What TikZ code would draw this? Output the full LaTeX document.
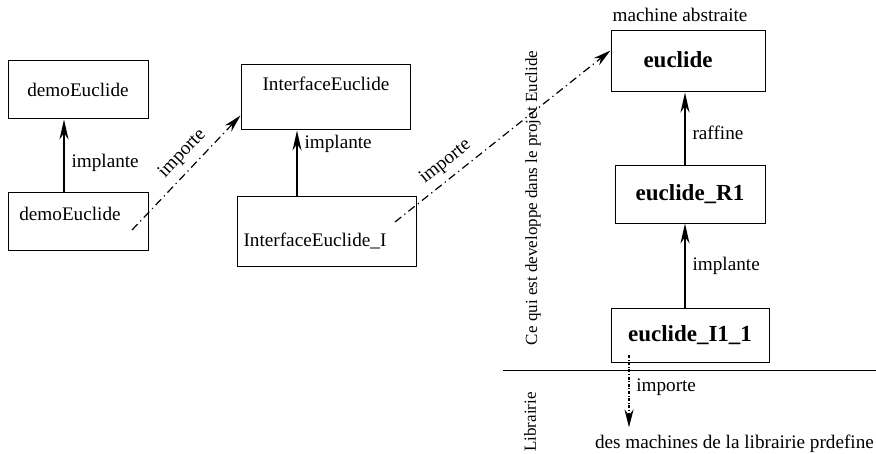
\documentclass[tikz,border=0pt]{standalone}
\usepackage{fontspec}
\setmainfont{Liberation Serif}
\usetikzlibrary{arrows.meta,calc,positioning}
\tikzset{
  mbox/.style={draw,line width=0.5pt,inner sep=0pt},
  mname/.style={font=\fontsize{11.5}{13}\selectfont\bfseries},
  impl/.style={line width=0.9pt,-{Stealth[length=10pt,width=4.5pt]}},
  imp/.style={line width=0.6pt,dash pattern=on 4pt off 2pt on 0.6pt off 2pt,-{Stealth[length=9pt,width=4.5pt]}},
  impf/.style={line width=0.6pt,dash pattern=on 1.5pt off 0.8pt on 0.5pt off 0.8pt,-{Stealth[length=9pt,width=4.5pt]}},
  vtext/.style={rotate=90,font=\fontsize{8.5}{10}\selectfont}
}
\begin{document}
\begin{tikzpicture}[x=0.5pt,y=-0.5pt,font=\fontsize{9.6}{11.5}\selectfont]
\useasboundingbox (0,0) rectangle (876,454);
% machines du projet
\node[mbox,minimum width=70pt,minimum height=29pt] (dA) at (78,90) {demoEuclide};
\node[mbox,minimum width=70pt,minimum height=29pt] (dB) at (78,221) {};
\node (dBt) at (70,214) {demoEuclide};
\node[mbox,minimum width=84.5pt,minimum height=32.5pt] (iA) at (325.5,97.5) {};
\node (iAt) at (326,84) {InterfaceEuclide};
\node[mbox,minimum width=89.5pt,minimum height=35pt] (iB) at (326.5,231) {};
\node (iBt) at (315,241) {InterfaceEuclide\_I};
\node[mbox,minimum width=77pt,minimum height=30.5pt] (eA) at (688,61.5) {};
\node[mname] (eAt) at (678,60) {euclide};
\node (abs) at (680,15) {machine abstraite};
\node[mbox,mname,minimum width=75pt,minimum height=28.5pt] (eR) at (690,194.5) {euclide\_R1};
\node[mbox,mname,minimum width=79pt,minimum height=27pt] (eI) at (690,335) {euclide\_I1\_1};
% librairie
\node[anchor=base west] (lib) at (588,448) {des machines de la librairie prdefine};
\node[vtext] (dev) at (533,198) {Ce qui est developpe dans le projet Euclide};
\node[vtext] (libr) at (530,422) {Librairie};
\coordinate (sepL) at (503,370);
\coordinate (sepR) at (876,370);
\draw[line width=0.5pt] (sepL) -- (sepR);
% liens
\coordinate (s1) at (132,230);
\coordinate (s2) at (395,222);
\coordinate (s3) at (629,355);
\path[impl]
($(dB.north)+(-14,0)$) edge node[right,pos=0.4]{implante} ($(dA.south)+(-14,0)$)
($(iB.north)+(-29.5,0)$) edge node[right,pos=0.8]{implante} ($(iA.south)+(-28.5,0)$)
($(eR.north)+(-5,0)$) edge node[right,pos=0.45]{raffine} ($(eA.south)+(-3,0)$)
($(eI.north)+(-5,0)$) edge node[right]{implante} ($(eR.south)+(-5,0)$);
\path[imp]
(s1) edge node[sloped,above,pos=0.57]{importe} ($(iA.south west)+(0,-15)$)
(s2) edge node[sloped,above,pos=0.28]{importe} ($(eA.south west)+(0,-42)$);
\path[impf]
(s3) edge node[right,pos=0.45]{importe} (s3 |- lib.north);
\end{tikzpicture}
\end{document}
